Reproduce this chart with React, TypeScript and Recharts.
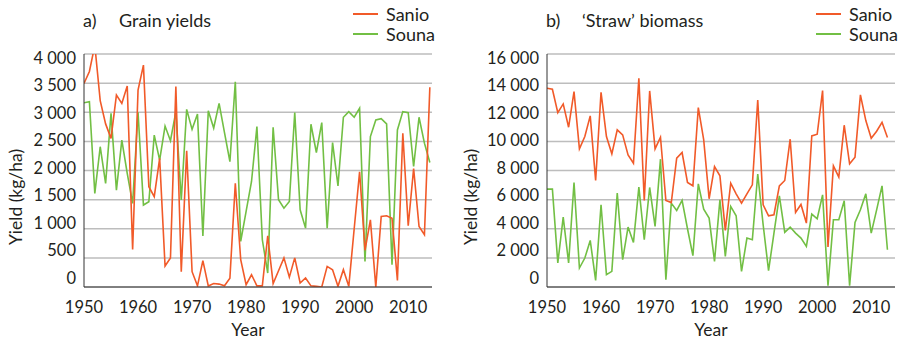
import React from "react";
import { LineChart, Line, XAxis, YAxis, CartesianGrid } from "recharts";

// years 1950..2014
const years = Array.from({ length: 65 }, (_, i) => 1950 + i);
const xTicks = [1950, 1960, 1970, 1980, 1990, 2000, 2010];
const grainTicks = [0, 500, 1000, 1500, 2000, 2500, 3000, 3500, 4000];
const strawTicks = [0, 2000, 4000, 6000, 8000, 10000, 12000, 14000, 16000];

// a) grain yields, kg/ha (1950-2014)
const grainSanio = [
  3495, 3700, 4150, 3200, 2800, 2551, 3295, 3152, 3449, 646,
  3380, 3809, 1722, 1550, 2208, 360, 500, 3440, 263, 2340,
  263, 20, 452, 17, 60, 50, 20, 150, 1780, 470,
  40, 210, 20, 20, 880, 57, 280, 500, 170, 500,
  69, 154, 20, 10, 0, 354, 297, 11, 297, 11,
  1000, 1977, 631, 1154, 0, 1211, 1223, 1180, 114, 2640,
  1051, 2034, 1040, 897, 3430,
];
const grainSouna = [
  3163, 3180, 1607, 2408, 1779, 2980, 1664, 2522, 1950, 1436,
  3000, 1407, 1464, 2608, 2179, 2763, 2511, 3009, 1493, 3049,
  2706, 2969, 875, 3026, 2729, 3152, 2650, 2151, 3524, 783,
  1297, 1811, 2754, 811, 240, 2743, 1497, 1354, 1469, 2994,
  1326, 1011, 2794, 2309, 2823, 1011, 2480, 1737, 2914, 3011,
  2914, 3068, 440, 2583, 2868, 2891, 2800, 383, 2697, 3011,
  2994, 2069, 2914, 2469, 2137,
];

// b) 'straw' biomass, kg/ha (1950-2013)
const strawSanio = [
  13646, 13577, 11977, 12571, 10971, 13417, 9486, 10331, 11749, 7314,
  13371, 10331, 9143, 10789, 10450, 9074, 8503, 14331, 5943, 13463,
  9486, 10286, 5943, 5800, 8846, 9234, 7177, 6949, 12320, 10103,
  6057, 8274, 7634, 3886, 7131, 6400, 5760, 6400, 7017, 12846,
  5646, 4891, 4960, 6949, 7314, 10149, 5120, 5669, 4389, 10377,
  10491, 13486, 2743, 8320, 7543, 11109, 8457, 8914, 13189, 11429,
  10217, 10700, 11314, 10263,
];
const strawSouna = [
  6720, 6720, 1646, 4800, 1646, 7177, 1303, 1989, 3200, 457,
  5646, 846, 1074, 6446, 1874, 4114, 3063, 6857, 3246, 6834,
  4160, 8777, 503, 5760, 5257, 5943, 4000, 2149, 7086, 5349,
  4731, 1760, 5989, 2103, 5531, 4891, 1074, 3360, 3246, 7749,
  4274, 1120, 3700, 6263, 3749, 4114, 3700, 3360, 2789, 5006,
  4686, 6331, 91, 4617, 4617, 5920, 91, 4434, 5303, 6400,
  3703, 5300, 6949, 2560,
];

const SANIO = "#f15a29";
const SOUNA = "#72bf44";
const TEXT = "#231f20";
const FONT = "Lato, 'Open Sans', sans-serif";

const grainData = years.map((year, i) => ({ year, sanio: grainSanio[i], souna: grainSouna[i] }));
const strawData = years.slice(0, strawSanio.length).map((year, i) => ({
  year,
  sanio: strawSanio[i],
  souna: strawSouna[i],
}));

const fmt = (v: number) =>
  v >= 1000 ? `${Math.floor(v / 1000)} ${String(v % 1000).padStart(3, "0")}` : `${v}`;

// the original's tick labels sit slightly inside the gridline span
const YTick = (props: any) => {
  const { x, y, payload, yMax } = props;
  const dy = -9 + 12.5 * (payload.value / yMax);
  return (
    <text x={x} y={y + dy} textAnchor="end" dominantBaseline="central" fontSize={16.5} fontFamily={FONT} fill={TEXT}>
      {fmt(payload.value)}
    </text>
  );
};

const XTick = (props: any) => {
  const { x, y, payload } = props;
  return (
    <text x={x} y={y + 12} textAnchor="middle" dominantBaseline="central" fontSize={16.5} fontFamily={FONT} fill={TEXT}>
      {payload.value}
    </text>
  );
};

interface PanelProps {
  data: { year: number; sanio: number; souna: number }[];
  yMax: number;
  yTicks: number[];
  width: number;
  plotLeft: number;
  plotRight: number;
  yLabelX: number;
  letter: string;
  title: string;
}

function Panel({ data, yMax, yTicks, width, plotLeft, plotRight, yLabelX, letter, title }: PanelProps) {
  const legendX = plotRight - 79;
  const text: React.CSSProperties = { position: "absolute", fontSize: 18, color: TEXT, whiteSpace: "nowrap", lineHeight: "20px" };
  return (
    <div style={{ position: "relative", width, height: 340 }}>
      <LineChart
        width={width}
        height={340}
        data={data}
        margin={{ top: 54, right: width - plotRight, bottom: 0, left: 0 }}
      >
        <CartesianGrid vertical={false} stroke="#bdbdbd" strokeWidth={1.5} />
        <XAxis
          dataKey="year"
          type="number"
          domain={[1950, 2014.4]}
          ticks={xTicks}
          interval={0}
          height={53}
          allowDataOverflow
          tickLine={false}
          axisLine={{ stroke: "#333" }}
          tick={<XTick />}
        />
        <XAxis
          xAxisId="top"
          orientation="top"
          type="number"
          domain={[1950, 2014.4]}
          height={0}
          tick={false}
          tickLine={false}
          axisLine={{ stroke: "#333" }}
        />
        <YAxis
          type="number"
          domain={[0, yMax]}
          ticks={yTicks}
          interval={0}
          width={plotLeft}
          allowDataOverflow
          tickLine={false}
          axisLine={{ stroke: "#333" }}
          tick={(p: any) => <YTick {...p} yMax={yMax} />}
        />
        <YAxis
          yAxisId="right"
          orientation="right"
          domain={[0, yMax]}
          width={0}
          tick={false}
          tickLine={false}
          axisLine={{ stroke: "#333" }}
        />
        <Line type="linear" dataKey="souna" stroke={SOUNA} strokeWidth={1.6} dot={false} isAnimationActive={false} />
        <Line type="linear" dataKey="sanio" stroke={SANIO} strokeWidth={1.6} dot={false} isAnimationActive={false} />
      </LineChart>

      <div style={{ ...text, left: plotLeft - 1, top: 10 }}>{letter}</div>
      <div style={{ ...text, left: plotLeft + 35, top: 10 }}>{title}</div>

      <div style={{ position: "absolute", left: legendX, top: 13, width: 25, height: 1.5, background: SANIO }} />
      <div style={{ ...text, left: legendX + 33, top: 4 }}>Sanio</div>
      <div style={{ position: "absolute", left: legendX, top: 33, width: 25, height: 1.5, background: SOUNA }} />
      <div style={{ ...text, left: legendX + 33, top: 24 }}>Souna</div>

      <div
        style={{
          ...text,
          left: yLabelX,
          top: 197,
          transform: "translate(-50%, -50%) rotate(-90deg)",
          fontSize: 17.5,
        }}
      >
        Yield (kg/ha)
      </div>
      <div style={{ ...text, left: (plotLeft + plotRight) / 2 - 10, top: 320, transform: "translateX(-50%)", fontSize: 17.5 }}>
        Year
      </div>
    </div>
  );
}

export default function App() {
  return (
    <div style={{ position: "absolute", left: 0, top: 0, width: 899, height: 340, background: "#fff", fontFamily: FONT }}>
      <div style={{ position: "absolute", left: 0, top: 0 }}>
        <Panel
          data={grainData}
          yMax={4000}
          yTicks={grainTicks}
          width={449}
          plotLeft={84}
          plotRight={432}
          yLabelX={16}
          letter="a)"
          title="Grain yields"
        />
      </div>
      <div style={{ position: "absolute", left: 449, top: 0 }}>
        <Panel
          data={strawData}
          yMax={16000}
          yTicks={strawTicks}
          width={450}
          plotLeft={98}
          plotRight={446}
          yLabelX={22}
          letter="b)"
          title="‘Straw’ biomass"
        />
      </div>
    </div>
  );
}
